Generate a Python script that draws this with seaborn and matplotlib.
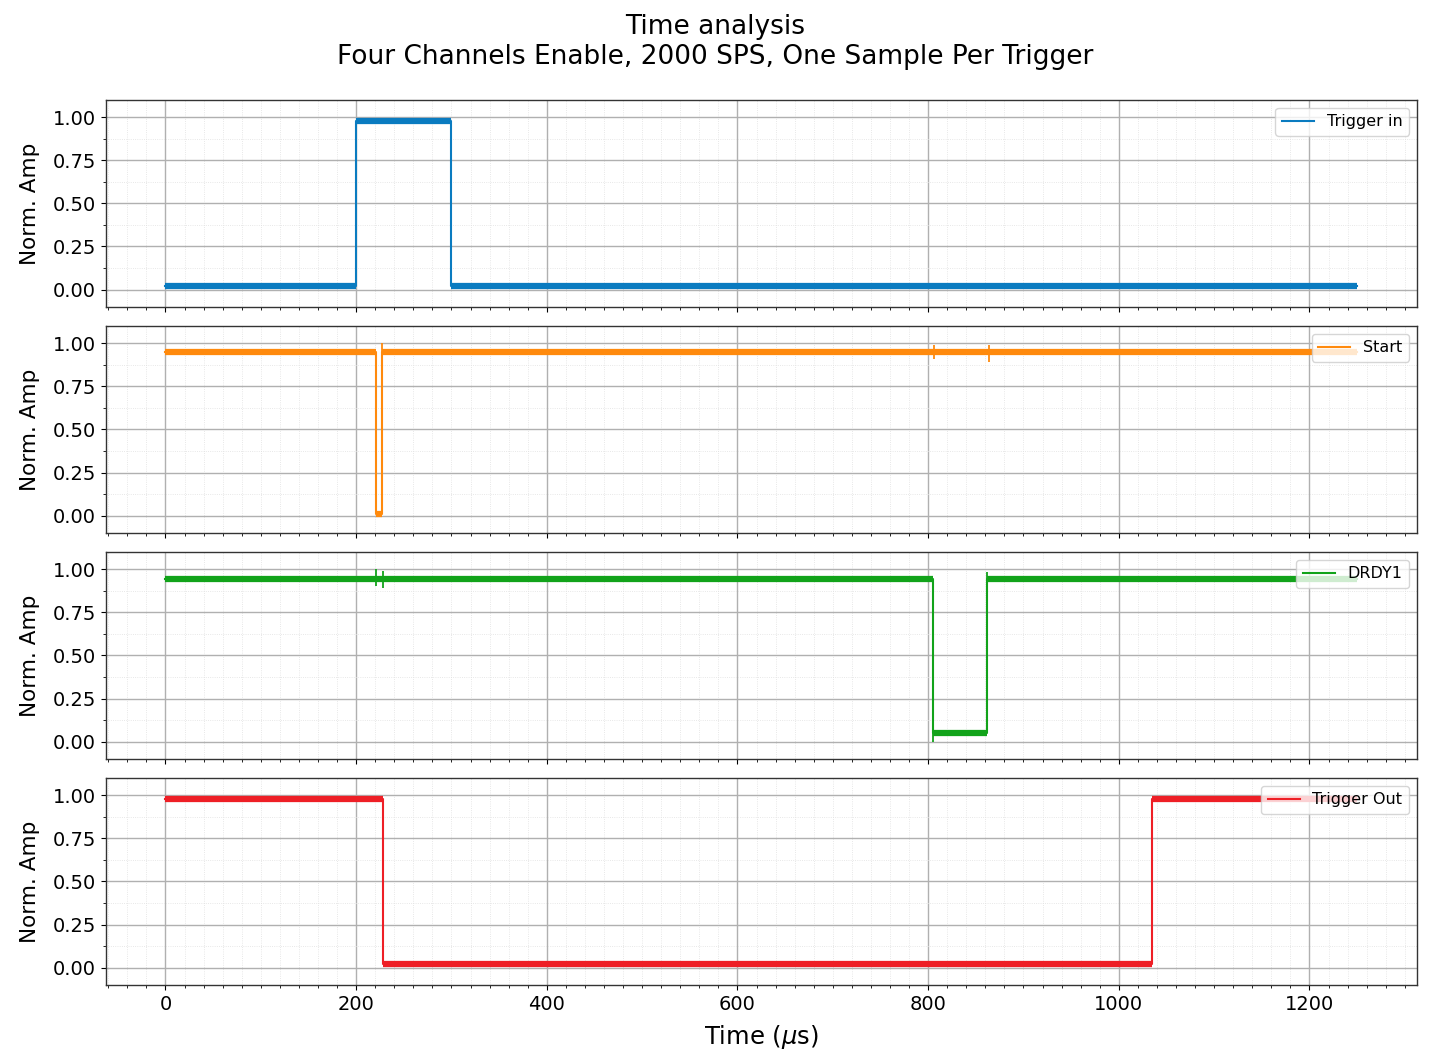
import numpy as np
import pandas as pd
import seaborn as sns
import matplotlib
matplotlib.use('Agg')
import matplotlib.pyplot as plt
from matplotlib.ticker import MultipleLocator, AutoMinorLocator

# step breakpoints (us) and levels for each channel
trig_in_t = [0, 200, 300, 1250]
trig_in_lv = [0.02, 0.98, 0.02]
start_t = [0, 221, 227, 1250]
start_lv = [0.95, 0.01, 0.95]
drdy_t = [0, 805, 862, 1250]
drdy_lv = [0.945, 0.05, 0.945]
trig_out_t = [0, 228, 1035, 1250]
trig_out_lv = [0.98, 0.02, 0.98]

# short glitches: time, low, high
start_glitch = [(227, 0.95, 1.00), (806, 0.91, 0.99), (864, 0.89, 0.99)]
drdy_glitch = [(221, 0.90, 1.00), (228, 0.89, 0.99), (805, 0.00, 0.05), (862, 0.945, 0.985)]

names = ['Trigger in', 'Start', 'DRDY1', 'Trigger Out']
colors = ['#0A7BC0', '#FF8A0D', '#12A31A', '#EE1F26']

channels = [(trig_in_t, trig_in_lv, []),
            (start_t, start_lv, start_glitch),
            (drdy_t, drdy_lv, drdy_glitch),
            (trig_out_t, trig_out_lv, [])]

plt.rcParams['figure.dpi'] = 100
plt.rcParams['savefig.dpi'] = 100

fig, axes = plt.subplots(4, 1, sharex=True, figsize=(14.31, 10.62))
fig.subplots_adjust(left=0.074, right=0.990, top=0.906, bottom=0.0725, hspace=0.092)

for ax, (t, lv, gl), name, c in zip(axes, channels, names, colors):
    xs, ys = [], []
    for i, l in enumerate(lv):
        xs += [t[i], t[i + 1]]
        ys += [l, l]
    df = pd.DataFrame({'t': xs, 'v': ys})
    sns.lineplot(data=df, x='t', y='v', sort=False, estimator=None,
                 color=c, lw=1.5, label=name, ax=ax, zorder=3)
    # noisy plateaus drawn as thick segments
    ax.hlines(lv, t[:-1], t[1:], colors=c, lw=4.5, zorder=3)
    for g in gl:
        ax.vlines(g[0], g[1], g[2], colors=c, lw=1.3, zorder=3)

    ax.set_ylim(-0.1, 1.1)
    ax.yaxis.set_major_locator(MultipleLocator(0.25))
    ax.yaxis.set_minor_locator(AutoMinorLocator(2))
    ax.xaxis.set_major_locator(MultipleLocator(200))
    ax.xaxis.set_minor_locator(AutoMinorLocator(10))
    ax.grid(which='major', color='#b0b0b0', lw=1.0)
    ax.grid(which='minor', color='#e0e0e0', lw=0.6, ls=':')
    ax.set_axisbelow(True)
    ax.tick_params(labelsize=14)
    for s in ax.spines.values():
        s.set_color('#333333')
        s.set_linewidth(1.0)
    ax.set_ylabel('Norm. Amp', fontsize=15.5, labelpad=9)
    ax.set_xlabel('')
    ax.legend(loc='upper right', fontsize=11.5)

axes[-1].set_xlim(-62.5, 1312.5)
axes[-1].set_xlabel(r'Time ($\mu$s)', fontsize=17.5, labelpad=7)
fig.suptitle('Time analysis\nFour Channels Enable, 2000 SPS, One Sample Per Trigger',
             fontsize=19, y=0.987)

plt.savefig('out.png', dpi=100)
